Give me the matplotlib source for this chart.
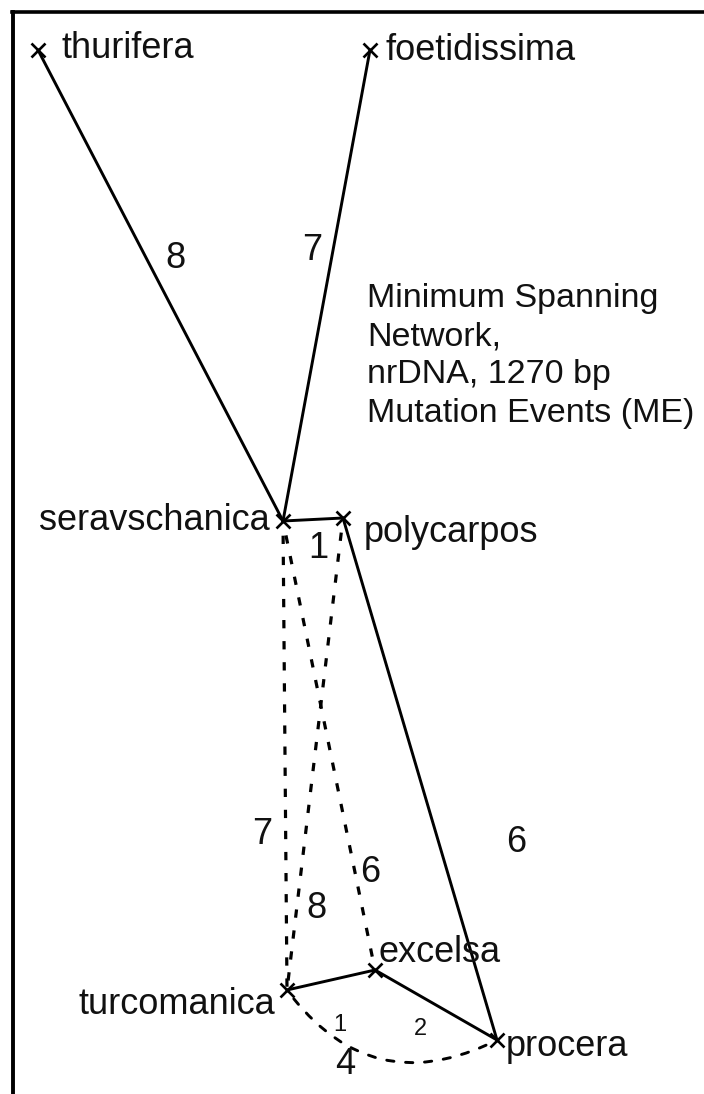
import numpy as np
import matplotlib.pyplot as plt
from matplotlib.patches import FancyArrowPatch
from matplotlib.lines import Line2D

plt.rcParams['font.family'] = ['Liberation Sans', 'DejaVu Sans']

# haplotypes / taxa
taxa = ['thurifera', 'foetidissima', 'seravschanica', 'polycarpos',
        'excelsa', 'turcomanica', 'procera']

# edges: (from, to, mutation events, kind)
edge_from = ['thurifera', 'foetidissima', 'seravschanica', 'polycarpos',
             'turcomanica', 'excelsa', 'seravschanica', 'polycarpos',
             'seravschanica', 'turcomanica']
edge_to = ['seravschanica', 'seravschanica', 'polycarpos', 'procera',
           'excelsa', 'procera', 'turcomanica', 'turcomanica',
           'excelsa', 'procera']
edge_me = [8, 7, 1, 6, 1, 2, 7, 8, 6, 4]
edge_solid = [True, True, True, True, True, True, False, False, False, False]

note = "Minimum Spanning\nNetwork,\nnrDNA, 1270 bp\nMutation Events (ME)"

# layout (canvas pixel units)
pos = {
    'thurifera': (38, 50),
    'foetidissima': (370, 50),
    'seravschanica': (283, 521),
    'polycarpos': (343, 518),
    'excelsa': (375, 970),
    'turcomanica': (287, 990),
    'procera': (497, 1040),
}
name_pos = {
    'thurifera': (62, 48, 'left'),
    'foetidissima': (385, 50, 'left'),
    'seravschanica': (270, 521, 'right'),
    'polycarpos': (364, 533, 'left'),
    'excelsa': (378, 953, 'left'),
    'turcomanica': (275, 1004, 'right'),
    'procera': (506, 1046, 'left'),
}
me_pos = [(175, 258), (312, 250), (318, 548), (516, 843), (340, 1025),
          (420, 1029), (262, 835), (316, 908), (370, 872), (345, 1064)]
me_small = [False, False, False, False, True, True, False, False, False, False]

fig = plt.figure(figsize=(7.04, 10.94), dpi=100)
ax = fig.add_axes([0, 0, 1, 1])
ax.set_xlim(0, 704)
ax.set_ylim(1094, 0)
ax.axis('off')

# frame (top and left only)
fig.add_artist(Line2D([13 / 704, 13 / 704], [0, 1 - 12 / 1094], color='black', lw=2.8))
fig.add_artist(Line2D([12 / 704, 1], [1 - 12 / 1094, 1 - 12 / 1094], color='black', lw=2.6))

for a, b, solid in zip(edge_from, edge_to, edge_solid):
    p1, p2 = pos[a], pos[b]
    if solid:
        ax.plot([p1[0], p2[0]], [p1[1], p2[1]], color='black', lw=2.1,
                solid_capstyle='round')
    elif a == 'turcomanica' and b == 'procera':
        arc = FancyArrowPatch(p1, p2, arrowstyle='-', connectionstyle='arc3,rad=0.42',
                              color='black', lw=2.1, linestyle=(0, (2.5, 4)),
                              shrinkA=8, shrinkB=8)
        ax.add_patch(arc)
    else:
        ax.plot([p1[0], p2[0]], [p1[1], p2[1]], color='black', lw=2.3,
                linestyle=(2, (2.6, 4)))

for t in taxa:
    x, y = pos[t]
    ax.plot(x, y, marker='x', color='black', markersize=10, mew=1.9)
    tx, ty, ha = name_pos[t]
    ax.text(tx, ty, t, fontsize=26, ha=ha, va='center', color='#111111')

for (x, y), v, small in zip(me_pos, edge_me, me_small):
    ax.text(x, y, str(v), fontsize=17 if small else 26, ha='center', va='center',
            color='#111111')

ax.text(367, 283, note, fontsize=24.5, ha='left', va='top', linespacing=1.3,
        color='#111111')

fig.savefig('out.png', dpi=100)
